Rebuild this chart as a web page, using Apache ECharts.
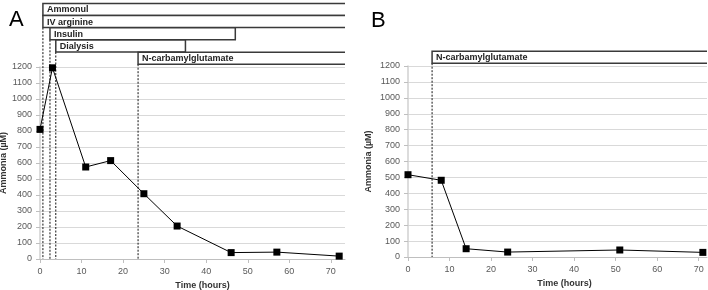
<!DOCTYPE html>
<html>
<head>
<meta charset="utf-8">
<script src="https://cdn.jsdelivr.net/npm/echarts@6/dist/echarts.min.js"></script>
<style>
  html, body { margin: 0; padding: 0; background: #fff; }
  #chart { width: 708px; height: 290px; }
</style>
</head>
<body>
<div id="chart"></div>
<script>
// panel A: ammonia over time
var timeA = [0, 3, 11, 17, 25, 33, 46, 57, 72];
var ammoniaA = [810, 1195, 575, 615, 408, 206, 40, 43, 18];
// treatments A (open end = until end of axis)
var eventNamesA = ['Ammonul', 'IV arginine', 'Insulin', 'Dialysis', 'N-carbamylglutamate'];
var eventStartA = [0.7, 0.7, 2.4, 3.8, 23.6];
var eventEndA = [null, null, 47, 35, null];

// panel B
var timeB = [0, 8, 14, 24, 51, 71];
var ammoniaB = [517, 482, 52, 31, 44, 29];
var eventNamesB = ['N-carbamylglutamate'];
var eventStartB = [5.8];
var eventEndB = [null];

var yTicks = [0, 1200, 100];   // min, max, step
var xTicksA = [0, 73.4, 10];
var xTicksB = [0, 72, 10];

var FONT = '"Liberation Sans", Arial, sans-serif';
var labelColor = '#595959';

function pairs(xs, ys) {
  return xs.map(function (x, i) { return [x, ys[i]]; });
}

// draws the treatment boxes above the plot plus the dashed start line
function boxRenderer(names, starts, ends, xMax) {
  return function (params, api) {
    var i = params.dataIndex;
    var row = names.length - 1 - i;
    var x0 = api.coord([starts[i], yTicks[1]])[0];
    var x1 = api.coord([ends[i] == null ? xMax : ends[i], yTicks[1]])[0];
    var gridTop = api.coord([0, yTicks[1]])[1];
    var axisY = api.coord([0, 0])[1];
    var bottom = gridTop - 2.8 - row * 12.2;
    var top = bottom - 12;
    var open = ends[i] == null;
    // a lower box starting at the same time already carries the dashed line
    var shared = starts.slice(i + 1).indexOf(starts[i]) >= 0;
    var border = open
      ? { type: 'polyline', shape: { points: [[x1, top], [x0, top], [x0, bottom], [x1, bottom]] } }
      : { type: 'rect', shape: { x: x0, y: top, width: x1 - x0, height: bottom - top } };
    border.style = { fill: null, stroke: '#3a3a3a', lineWidth: 1.5 };
    var children = [
      { type: 'rect', shape: { x: x0, y: top, width: x1 - x0, height: bottom - top },
        style: { fill: '#fff' } }
    ];
    if (!shared) {
      children.push({ type: 'line', shape: { x1: x0, y1: bottom, x2: x0, y2: axisY },
        style: { stroke: '#111', lineWidth: 1, lineDash: [2, 1.5] } });
    }
    children.push(border);
    children.push({ type: 'text', style: { text: names[i], x: x0 + 4, y: (top + bottom) / 2 + 0.5,
      verticalAlign: 'middle', align: 'left', fill: '#222', font: 'bold 9px ' + FONT } });
    return { type: 'group', children: children };
  };
}

function plain(v) { return String(v); }

function xAxisFor(gi, ticks, namePad) {
  return {
    type: 'value', gridIndex: gi, min: ticks[0], max: ticks[1], interval: ticks[2],
    name: 'Time (hours)', nameLocation: 'middle', nameGap: 17,
    nameTextStyle: { fontFamily: FONT, fontWeight: 'bold', fontSize: 9, color: '#333',
      padding: [0, 0, 0, namePad] },
    axisLine: { show: true, lineStyle: { color: '#bfbfbf', width: 1 } },
    axisTick: { show: true, length: 4, lineStyle: { color: '#bfbfbf' } },
    axisLabel: { fontFamily: FONT, fontSize: 9, color: labelColor, margin: 8,
      showMaxLabel: false, formatter: plain },
    splitLine: { show: false }
  };
}

function yAxisFor(gi, gap) {
  return {
    type: 'value', gridIndex: gi, min: yTicks[0], max: yTicks[1], interval: yTicks[2],
    name: 'Ammonia (µM)', nameLocation: 'middle', nameGap: gap, nameRotate: 90,
    nameTextStyle: { fontFamily: FONT, fontWeight: 'bold', fontSize: 9, color: '#333' },
    axisLine: { show: true, lineStyle: { color: '#d0d0d0', width: 1.5 } },
    axisTick: { show: true, length: 4, lineStyle: { color: '#bfbfbf' } },
    axisLabel: { fontFamily: FONT, fontSize: 9, color: labelColor, margin: 8, formatter: plain },
    splitLine: { show: true, lineStyle: { color: '#d9d9d9', width: 1 } }
  };
}

function lineSeries(gi, data) {
  return {
    type: 'line', xAxisIndex: gi, yAxisIndex: gi, data: data, z: 5,
    symbol: 'rect', symbolSize: 7, showSymbol: true,
    lineStyle: { color: '#000', width: 1 },
    itemStyle: { color: '#000' },
    animation: false
  };
}

function boxSeries(gi, names, starts, ends, xMax) {
  return {
    type: 'custom', xAxisIndex: gi, yAxisIndex: gi, clip: false, z: 2,
    data: starts.map(function (s, i) { return [s, ends[i] == null ? xMax : ends[i]]; }),
    renderItem: boxRenderer(names, starts, ends, xMax),
    animation: false, silent: true
  };
}

var chart = echarts.init(document.getElementById('chart'), null, { renderer: 'canvas' });
chart.setOption({
  backgroundColor: '#fff',
  animation: false,
  title: [
    { text: 'A', left: 4, top: 4, textStyle: { fontFamily: FONT, fontSize: 22, fontWeight: 'normal', color: '#000' } },
    { text: 'B', left: 366, top: 5, textStyle: { fontFamily: FONT, fontSize: 22, fontWeight: 'normal', color: '#000' } }
  ],
  grid: [
    { left: 40, width: 305, top: 67, bottom: 31, containLabel: false, outerBoundsMode: 'none' },
    { left: 408, width: 299, top: 66, bottom: 33, containLabel: false, outerBoundsMode: 'none' }
  ],
  xAxis: [xAxisFor(0, xTicksA, 20), xAxisFor(1, xTicksB, 14)],
  yAxis: [yAxisFor(0, 27), yAxisFor(1, 35)],
  series: [
    boxSeries(0, eventNamesA, eventStartA, eventEndA, xTicksA[1]),
    lineSeries(0, pairs(timeA, ammoniaA)),
    boxSeries(1, eventNamesB, eventStartB, eventEndB, xTicksB[1]),
    lineSeries(1, pairs(timeB, ammoniaB))
  ]
});
</script>
</body>
</html>
